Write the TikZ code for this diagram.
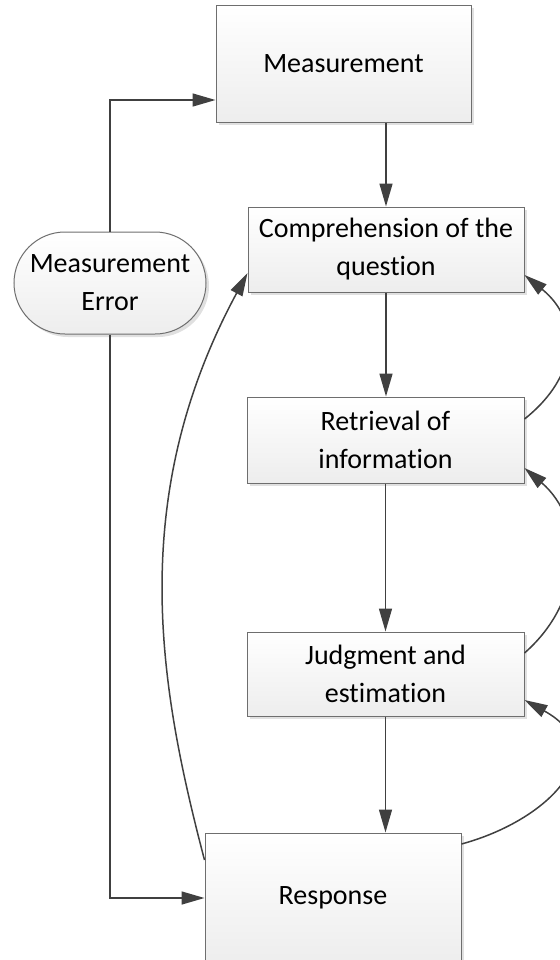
\documentclass[tikz,border=0pt]{standalone}
\usepackage{fontspec}
\setmainfont{Carlito}[Ligatures=NoCommon]
\usepackage{tikz}
\usetikzlibrary{arrows.meta, shadows, calc}

\definecolor{linegray}{HTML}{404040}
\definecolor{edgegray}{HTML}{6E6E6E}

\begin{document}
\begin{tikzpicture}[x=0.5pt, y=-0.5pt,
	box/.style={draw=edgegray, line width=0.5pt, top color=white, bottom color=black!7,
		drop shadow={shadow xshift=1.5pt, shadow yshift=-1.5pt, fill=black!12, opacity=1},
		align=center, inner sep=0pt, font=\fontsize{14}{19}\selectfont},
	arr/.style={draw=linegray, line width=0.75pt, -{Triangle[length=11.5pt,width=6.5pt]}}]
	\useasboundingbox (0,0) rectangle (560,960);
	\clip (0,0) rectangle (560,960);
	
	%boxes
	\node[box, minimum width=127.5pt, minimum height=58.5pt] (meas) at (343.5,63.5) {Measurement};
	\node[box, minimum width=138pt, minimum height=42.5pt] (compr) at (386,249.5) {Comprehension of the\\question};
	\node[box, minimum width=138.5pt, minimum height=43pt] (retr) at (385.5,440) {Retrieval of\\information};
	\node[box, minimum width=138.5pt, minimum height=42pt] (judg) at (385.5,674) {Judgment and\\estimation};
	\node[box, minimum width=128pt, minimum height=65pt] (resp) at (333,898) {Response};
	\node[box, rounded corners=25.5pt, minimum width=96pt, minimum height=51pt] (err) at (110,283) {Measurement\\Error};
	
	%main chain
	\draw[arr] (meas.south -| compr.north) -- (compr.north);
	\draw[arr] (compr.south) -- (compr.south |- retr.north);
	\draw[arr] (retr.south) -- (retr.south |- judg.north);
	\draw[arr] (judg.south) -- (judg.south |- resp.north);
	
	%error branches
	\draw[arr] (err.north) |- ([yshift=-18.25pt]meas.west);		%up
	\draw[arr] (err.south) |- (resp.west);						%down
	
	%feedback curves
	\draw[arr] ([yshift=19pt]resp.west) .. controls (160,690) and (125,500) .. ([yshift=-11.75pt]compr.west);	%left
	\draw[arr] ([yshift=10.5pt]retr.east) .. controls (580,375) and (580,320) .. ([yshift=-12.75pt]compr.east);	%R1
	\draw[arr] ([yshift=10.5pt]judg.east) .. controls (585,600) and (585,520) .. ([yshift=-14pt]retr.east);		%R2
	\draw[arr] ([yshift=27pt]resp.east) .. controls (550,820) and (615,750) .. ([yshift=-13pt]judg.east);		%R3
\end{tikzpicture}
\end{document}
